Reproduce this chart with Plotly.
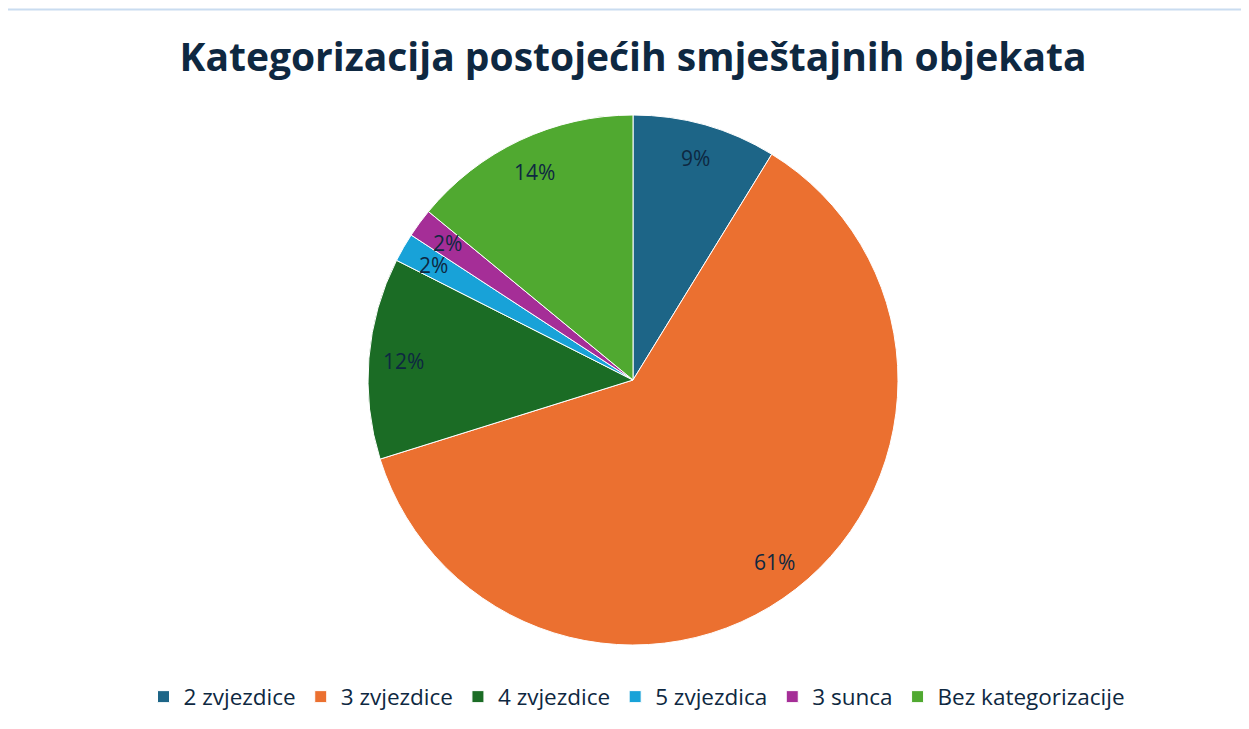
import math
import plotly.graph_objects as go

categories = ["2 zvjezdice", "3 zvjezdice", "4 zvjezdice", "5 zvjezdica", "3 sunca", "Bez kategorizacije"]
values = [5, 35, 7, 1, 1, 8]
colors = ["#1D6587", "#EB7030", "#1B6C25", "#18A2D8", "#A52E97", "#50A930"]
title_text = "Kategorizacija postojećih smještajnih objekata"

W, H = 1249, 729
OFF = 8  # page body margin in which the figure sits
cx, cy, R = 633 - OFF, 380 - OFF, 265
text_color = "#0E2841"

fig = go.Figure()
fig.add_trace(go.Pie(
    labels=categories,
    values=values,
    sort=False,
    direction="clockwise",
    rotation=0,
    marker=dict(colors=colors, line=dict(color="white", width=1)),
    textinfo="none",
    hoverinfo="label+percent",
    domain=dict(x=[(cx - R) / W, (cx + R) / W], y=[(H - cy - R) / H, (H - cy + R) / H]),
))

# percentage labels placed at each slice's mid-angle
total = sum(values)
cum = 0
annotations = []
for v in values:
    mid = (cum + v / 2) / total * 2 * math.pi
    cum += v
    r = 0.87 * R
    x = cx + r * math.sin(mid)
    y = cy - r * math.cos(mid)
    annotations.append(dict(
        x=x / W, y=1 - y / H, xref="paper", yref="paper",
        xanchor="center", yanchor="middle",
        text=f"{round(v / total * 100)}%", showarrow=False,
        font=dict(family="Open Sans, Liberation Sans, sans-serif", size=21, color=text_color),
    ))

fig.update_layout(
    width=W, height=H,
    margin=dict(l=0, r=0, t=0, b=0),
    paper_bgcolor="white",
    plot_bgcolor="white",
    title=dict(
        text="<b>" + title_text + "</b>",
        x=(633 - OFF) / W, xanchor="center", y=1 - (57 - OFF) / H, yanchor="middle",
        font=dict(family="Open Sans, Liberation Sans, sans-serif", size=39, color=text_color),
    ),
    legend=dict(
        orientation="h", x=(637 - OFF) / W, xanchor="center", y=1 - (697 - OFF) / H, yanchor="middle",
        font=dict(family="Open Sans, Liberation Sans, sans-serif", size=22.5, color=text_color),
        itemwidth=30, traceorder="normal",
    ),
    annotations=annotations,
    shapes=[dict(
        type="rect", xref="paper", yref="paper",
        x0=(3.5 - OFF) / W, x1=1.01, y0=-0.02, y1=1 - (9.5 - OFF) / H,
        line=dict(color="#C9DCF0", width=2), fillcolor="rgba(0,0,0,0)",
    )],
)

fig.write_html("out.html")
